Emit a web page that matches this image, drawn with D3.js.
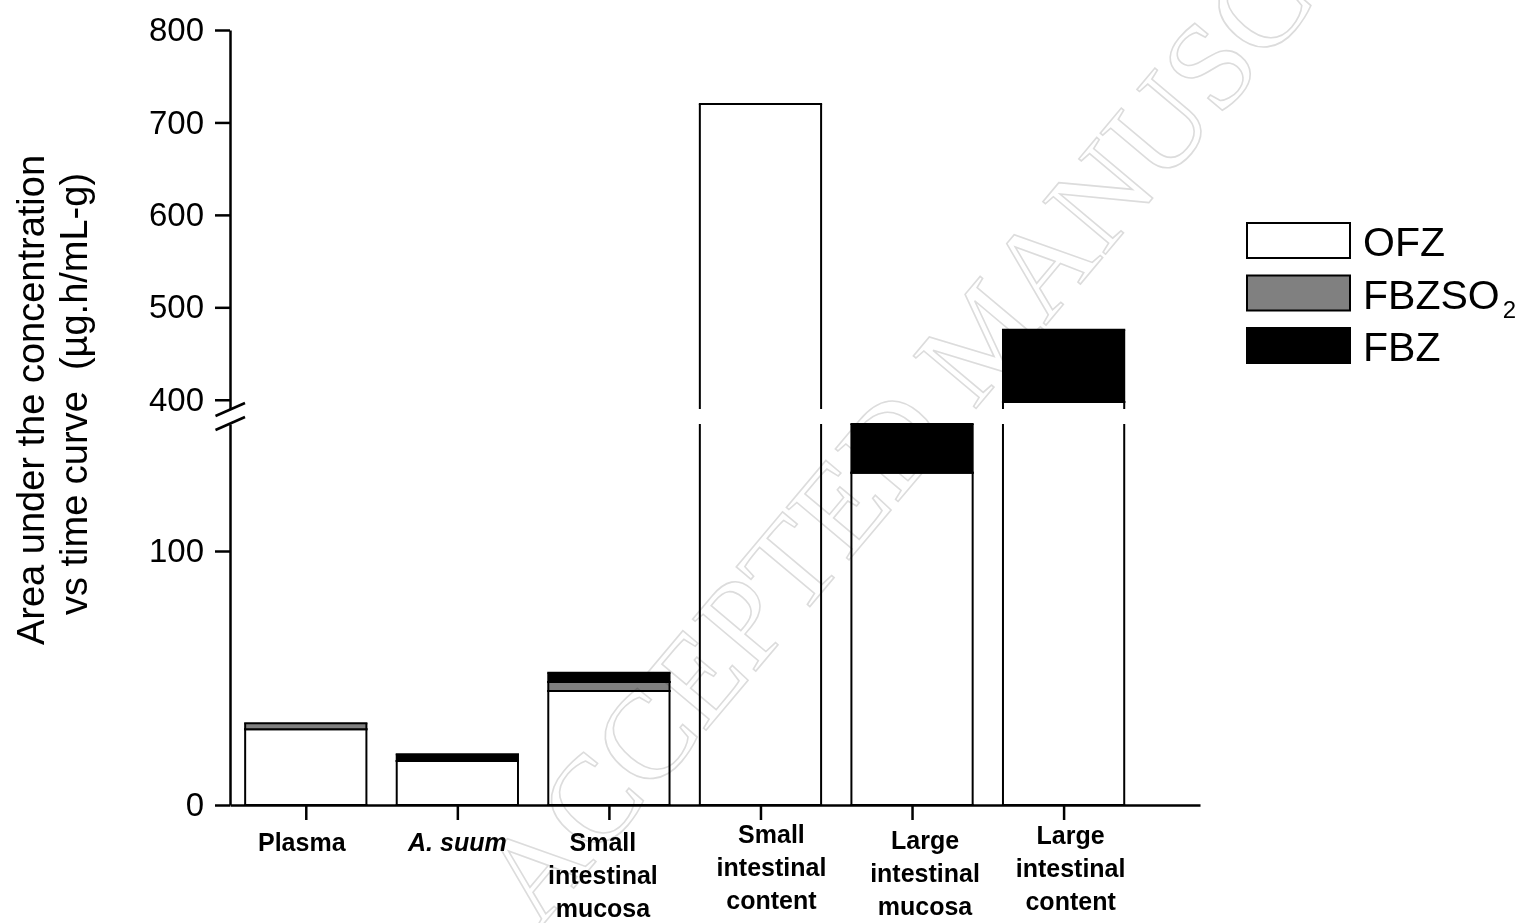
<!DOCTYPE html>
<html>
<head>
<meta charset="utf-8">
<script src="https://cdn.jsdelivr.net/npm/d3@7"></script>
<style>
  html, body { margin: 0; padding: 0; background: #fff; }
  svg { display: block; font-family: Arial, "Liberation Sans", Helvetica, sans-serif; }
</style>
</head>
<body>
<svg id="chart" width="1519" height="923"></svg>
<script>
// Tissue / matrix categories (label lines)
const categories = [
  ["Plasma"],
  ["A. suum"],
  ["Small", "intestinal", "mucosa"],
  ["Small", "intestinal", "content"],
  ["Large", "intestinal", "mucosa"],
  ["Large", "intestinal", "content"]
];
const italicCategory = [false, true, false, false, false, false];

// AUC (µg.h/mL-g) per analyte, stacked bottom to top
const seriesNames = ["OFZ", "FBZSO2", "FBZ"];
const ofz    = [29.8, 17.3, 44.9, 720.0, 130.8, 397.5];
const fbzso2 = [2.4,  0.0,  3.5,  0.0,   0.0,   0.0];
const fbz    = [0.0,  2.7,  3.7,  0.0,   19.2,  78.2];

// Axis ticks of the two y-axis segments
const lowerTicks = [0, 100];
const upperTicks = [400, 500, 600, 700, 800];
const lowerDomain = [0, 150];
const upperDomain = [390, 800];

const fills = { OFZ: "#ffffff", FBZSO2: "#808080", FBZ: "#000000" };

// label placement tweaks (px) for the multi-line category labels
const labelDx = [-4, 0, -6, 11, 13, 7];
const labelBase = [851, 851, 851, 843, 849, 844];
const lineStep = 33;

const svg = d3.select("#chart");

// Scales
const x = d3.scaleLinear().domain([0.5, 6.9]).range([230, 1200]);
const barW = x(0.8) - x(0);
const yLow = d3.scaleLinear().domain(lowerDomain).range([805, 424]);
const yUp = d3.scaleLinear().domain(upperDomain).range([409, 30]);

// Stack the three analytes
const rows = categories.map((c, i) => ({ i, OFZ: ofz[i], FBZSO2: fbzso2[i], FBZ: fbz[i] }));
const stacked = d3.stack().keys(seriesNames)(rows);

const gBars = svg.append("g");

const segments = [];
stacked.forEach(layer => {
  layer.forEach((d, i) => {
    if (d[1] - d[0] > 0) segments.push({ key: layer.key, i, v0: d[0], v1: d[1] });
  });
});

// Draw each segment on whichever axis segments it reaches
[[yLow, lowerDomain], [yUp, upperDomain]].forEach(([ys, dom]) => {
  segments.forEach(s => {
    const a = Math.max(s.v0, dom[0]);
    const b = Math.min(s.v1, dom[1]);
    if (b <= a) return;
    const xl = x(s.i + 1) - barW / 2;
    const xr = x(s.i + 1) + barW / 2;
    const yt = ys(b), yb = ys(a);
    gBars.append("rect")
      .attr("x", xl).attr("y", yt)
      .attr("width", barW).attr("height", yb - yt)
      .attr("fill", fills[s.key]);
    const edge = (x1, y1, x2, y2) => gBars.append("line")
      .attr("x1", x1).attr("y1", y1).attr("x2", x2).attr("y2", y2)
      .attr("stroke", "#000").attr("stroke-width", 2);
    edge(xl, yt, xl, yb);
    edge(xr, yt, xr, yb);
    if (s.v1 <= dom[1]) edge(xl - 1, yt, xr + 1, yt);
    if (s.v0 >= dom[0]) edge(xl - 1, yb, xr + 1, yb);
  });
});

// Y axes (two segments)
function styleAxis(g) {
  g.attr("font-family", null);
  g.selectAll("path, line").attr("stroke", "#000").attr("stroke-width", 2.5);
  g.selectAll("text").attr("font-size", 33).attr("fill", "#000");
}
svg.append("g").attr("transform", "translate(230,0)")
  .call(d3.axisLeft(yLow).tickValues(lowerTicks).tickSize(15).tickSizeOuter(0).tickPadding(11))
  .call(styleAxis);
svg.append("g").attr("transform", "translate(230,0)")
  .call(d3.axisLeft(yUp).tickValues(upperTicks).tickSize(15).tickSizeOuter(0).tickPadding(11))
  .call(styleAxis);

// Break marks on the y axis
const brkMid = (yUp(upperDomain[0]) + yLow(lowerDomain[1])) / 2;
[-7, 7].forEach(off => {
  svg.append("line")
    .attr("x1", 215.5).attr("y1", brkMid + off + 6.5)
    .attr("x2", 245).attr("y2", brkMid + off - 6.5)
    .attr("stroke", "#000").attr("stroke-width", 2.5);
});

// X axis
svg.append("g").attr("transform", "translate(0,805)")
  .call(d3.axisBottom(x).tickValues(d3.range(1, categories.length + 1)).tickSize(15).tickSizeOuter(0).tickFormat(""))
  .call(g => g.selectAll("path, line").attr("stroke", "#000").attr("stroke-width", 2.5));

// Category labels
categories.forEach((lines, i) => {
  const t = svg.append("text")
    .attr("text-anchor", "middle")
    .attr("font-size", 25).attr("font-weight", "bold")
    .attr("font-style", italicCategory[i] ? "italic" : "normal");
  lines.forEach((ln, k) => {
    t.append("tspan")
      .attr("x", x(i + 1) + labelDx[i])
      .attr("y", labelBase[i] + k * lineStep)
      .text(ln);
  });
});

// Y axis title
const yTitle = ["Area under the concentration", "vs time curve  (\u00b5g.h/mL-g)"];
yTitle.forEach((ln, k) => {
  svg.append("text")
    .attr("transform", `translate(${44 + k * 43},${400 - k * 6}) rotate(-90)`)
    .attr("text-anchor", "middle")
    .attr("font-size", 38)
    .attr("xml:space", "preserve")
    .style("white-space", "pre")
    .text(ln);
});

// Legend
const legend = svg.append("g").attr("transform", "translate(1247,223)");
seriesNames.forEach((name, k) => {
  const row = legend.append("g").attr("transform", `translate(0,${k * 52.5})`);
  row.append("rect").attr("x", 0).attr("y", 0).attr("width", 103).attr("height", 35)
    .attr("fill", fills[name]).attr("stroke", "#000").attr("stroke-width", 2);
  const t = row.append("text").attr("x", 116).attr("y", 33).attr("font-size", 41);
  if (name === "FBZSO2") {
    t.append("tspan").text("FBZSO");
    t.append("tspan").attr("font-size", 24).attr("dx", 3).attr("dy", 9).text("2");
  } else {
    t.text(name);
  }
});

// Manuscript watermark
svg.append("text")
  .attr("transform", "translate(983,335) rotate(-50)")
  .attr("text-anchor", "middle")
  .attr("dominant-baseline", "central")
  .attr("font-family", "'Liberation Serif', 'DejaVu Serif', serif")
  .attr("font-size", 125)
  .attr("fill", "none")
  .attr("stroke", "#dcdcdc")
  .attr("stroke-width", 1.6)
  .style("mix-blend-mode", "multiply")
  .text("ACCEPTED MANUSCRIPT");
</script>
</body>
</html>
